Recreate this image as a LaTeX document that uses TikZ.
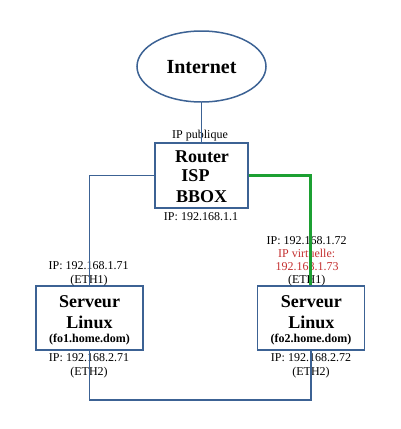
\documentclass[tikz,border=0pt]{standalone}
\usepackage{fontspec}
\setmainfont{Liberation Serif}
\usetikzlibrary{shapes.geometric}
\definecolor{lblue}{RGB}{60,98,148}
\definecolor{lgreen}{RGB}{28,160,50}
\definecolor{lred}{RGB}{196,48,48}
\begin{document}
\begin{tikzpicture}[x=1pt,y=-1pt,
  boxst/.style={draw=lblue,line width=1.3pt,rectangle,inner sep=0pt,minimum width=#1},
  bigtxt/.style={font=\bfseries\fontsize{18}{20}\selectfont,anchor=base,inner sep=0pt},
  smallbold/.style={font=\bfseries\fontsize{12}{14}\selectfont,anchor=base,inner sep=0pt},
  lbl/.style={font=\fontsize{12}{14}\selectfont,anchor=base,inner sep=0pt},
  redlbl/.style={lbl,text=lred},
  wire/.style={draw=lblue,line width=1.6pt},
  gwire/.style={draw=lgreen,line width=2.8pt}]
\useasboundingbox (0,0) rectangle (400,429);
% Internet
\node[ellipse,draw=lblue,line width=1.5pt,minimum width=129pt,minimum height=71pt,inner sep=0pt] (inet) at (201.5,66.5) {};
\node[font=\bfseries\fontsize{20}{22}\selectfont,anchor=base,inner sep=0pt] (inettxt) at (201.5,73.5) {Internet};
% Router
\node[boxst=93pt,minimum height=65pt] (router) at (201.5,175.5) {};
\node[bigtxt] (r1) at (202,162.3) {Router};
\node[bigtxt] (r2) at (195.5,181.8) {ISP};
\node[bigtxt] (r3) at (201.7,202) {BBOX};
\node[lbl] (pub) at (200,138) {IP publique};
\node[lbl] (rip) at (201,220.7) {IP: 192.168.1.1};
% Server 1
\node[boxst=107pt,minimum height=64pt] (s1) at (89.5,318) {};
\node[bigtxt] (s1a) at (89.5,307.5) {Serveur};
\node[bigtxt] (s1b) at (89.5,328.3) {Linux};
\node[smallbold] (s1c) at (89.5,342) {(fo1.home.dom)};
\node[lbl] (s1ip1) at (88.7,269) {IP: 192.168.1.71};
\node[lbl] (s1e1) at (89,283) {(ETH1)};
\node[lbl] (s1ip2) at (89,361.7) {IP: 192.168.2.71};
\node[lbl] (s1e2) at (89,375.3) {(ETH2)};
% Server 2
\node[boxst=107pt,minimum height=64pt] (s2) at (310.8,318) {};
\node[bigtxt] (s2a) at (311.3,307.5) {Serveur};
\node[bigtxt] (s2b) at (311.3,328.3) {Linux};
\node[smallbold] (s2c) at (311,342) {(fo2.home.dom)};
\node[lbl] (s2ip1) at (306.7,244) {IP: 192.168.1.72};
\node[redlbl] (s2v1) at (306.7,257.3) {IP virtuelle:};
\node[redlbl] (s2v2) at (307,270) {192.168.1.73};
\node[lbl] (s2e1) at (306.7,283) {(ETH1)};
\node[lbl] (s2ip2) at (311,361.7) {IP: 192.168.2.72};
\node[lbl] (s2e2) at (311,375.3) {(ETH2)};
% connectors
\coordinate (bot) at (200,400);
\draw[wire] (inet.south) -- (router.north);
\draw[wire] (router.west) -| (s1.north);
\draw[gwire] (router.east) -| (s2.north);
\draw[wire] (s1.south) -- (s1.south |- bot) -| (s2.south);
\end{tikzpicture}
\end{document}
